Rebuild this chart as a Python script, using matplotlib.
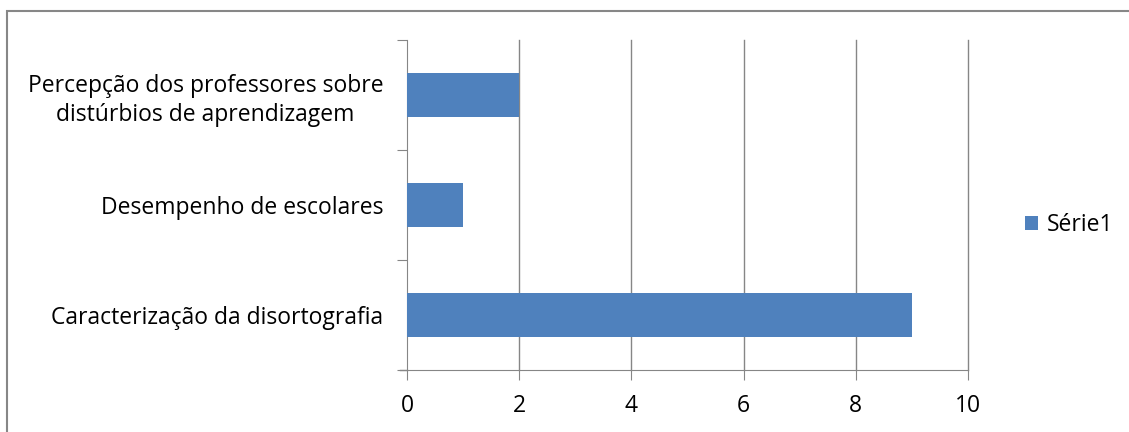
import matplotlib
matplotlib.use("Agg")
import matplotlib.pyplot as plt
from matplotlib.patches import Rectangle, Patch

categories = [
    "Caracterização da disortografia",
    "Desempenho de escolares",
    "Percepção dos professores sobre\ndistúrbios de aprendizagem",
]
values = [9, 1, 2]
series_name = "Série1"
x_ticks = [0, 2, 4, 6, 8, 10]

bar_color = "#4F81BD"
grid_color = "#868686"
fs = 16.5

plt.rcParams["font.family"] = ["Open Sans", "DejaVu Sans"]

W, H = 1129, 432
fig = plt.figure(figsize=(W / 100, H / 100), dpi=100)
fig.patches.append(Rectangle((7 / W, -0.05), 1.2, 1 - 11 / H + 0.05,
                             transform=fig.transFigure, fill=False,
                             edgecolor="#878787", linewidth=1.5))

ax = fig.add_axes([407 / W, 1 - 370 / H, (968 - 407) / W, (370 - 40) / H])
pos = range(len(categories))
ax.barh(pos, values, height=0.4, color=bar_color, zorder=3)

ax.set_xlim(0, 10)
ax.set_ylim(-0.5, len(categories) - 0.5)
ax.set_xticks(x_ticks)
ax.set_xticklabels([str(t) for t in x_ticks], fontsize=fs, color="#000000")

# category labels sit between boundary ticks
ax.set_yticks([p - 0.5 for p in pos] + [len(categories) - 0.5])
ax.set_yticklabels([])
ax.set_yticks(list(pos), minor=True)
ax.set_yticklabels(categories, minor=True, fontsize=fs, ha="right",
                   multialignment="center", linespacing=1.3)
ax.tick_params(axis="y", which="minor", length=0, pad=17)
ax.tick_params(axis="y", which="major", length=7, color=grid_color)
ax.tick_params(axis="x", length=7, color=grid_color, pad=10)

for t in x_ticks[1:]:
    ax.axvline(t, color=grid_color, linewidth=1, zorder=0, clip_on=False)
for s in ["top", "right"]:
    ax.spines[s].set_visible(False)
ax.spines["left"].set_color(grid_color)
ax.spines["bottom"].set_color(grid_color)
ax.plot([-0.12, 0], [-0.5, -0.5], color=grid_color, lw=1, clip_on=False)

handles = [Patch(facecolor=bar_color, label=series_name)]
fig.legend(handles=handles, loc="center left", bbox_to_anchor=(1004 / W, 1 - 225 / H),
           frameon=False, fontsize=fs, handlelength=0.6, handleheight=0.6,
           handletextpad=0.35)

fig.savefig("out.png", dpi=100)
